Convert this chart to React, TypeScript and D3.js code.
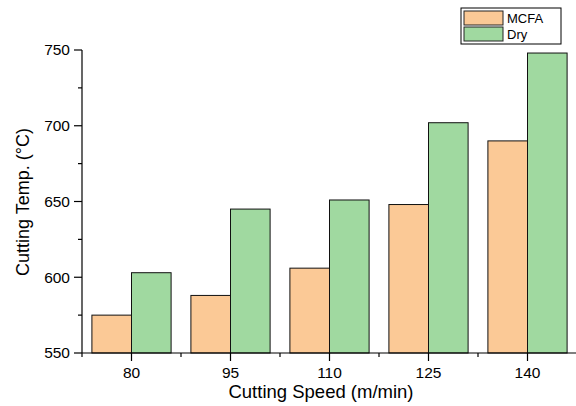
import React, { useEffect, useRef } from 'react';
import * as d3 from 'd3';

const speeds = [80, 95, 110, 125, 140];
const mcfa = [575, 588, 606, 648, 690];
const dry = [603, 645, 651, 702, 748];
const yTicks = [550, 600, 650, 700, 750];

const WIDTH = 576;
const HEIGHT = 406;

const App: React.FC = () => {
  const svgRef = useRef<SVGSVGElement>(null);

  useEffect(() => {
    if (!svgRef.current) return;
    const svg = d3.select(svgRef.current);
    svg.selectAll('*').remove();

    const left = 82;
    const right = 577;
    const top = 50;
    const bottom = 353;
    const font = 'Liberation Sans, Arial, sans-serif';

    const x = d3.scaleLinear().domain([72.5, 147.5]).range([left, right]);
    const y = d3.scaleLinear().domain([550, 750]).range([bottom, top]);
    const half = 6; // bar width in speed units

    const series = [
      { name: 'MCFA', values: mcfa, color: '#fbc996', offset: -half },
      { name: 'Dry', values: dry, color: '#a0d9a0', offset: 0 },
    ];

    // bars
    series.forEach(s => {
      svg
        .append('g')
        .selectAll('rect')
        .data(speeds)
        .enter()
        .append('rect')
        .attr('x', d => x(d + s.offset))
        .attr('width', x(half) - x(0))
        .attr('y', (d, i) => y(s.values[i]))
        .attr('height', (d, i) => bottom - y(s.values[i]))
        .attr('fill', s.color)
        .attr('stroke', '#111')
        .attr('stroke-width', 1);
    });

    // y axis
    const yAxis = svg.append('g').attr('transform', `translate(${left},0)`);
    yAxis
      .append('line')
      .attr('x1', 0)
      .attr('x2', 0)
      .attr('y1', top)
      .attr('y2', bottom)
      .attr('stroke', '#000')
      .attr('stroke-width', 1.2);
    d3.range(550, 751, 25).forEach(v => {
      const major = v % 50 === 0;
      yAxis
        .append('line')
        .attr('x1', major ? -8 : -4)
        .attr('x2', 0)
        .attr('y1', y(v))
        .attr('y2', y(v))
        .attr('stroke', '#000')
        .attr('stroke-width', 1.2);
    });
    yAxis
      .selectAll('text')
      .data(yTicks)
      .enter()
      .append('text')
      .attr('x', -12)
      .attr('y', d => y(d))
      .attr('dy', '0.35em')
      .attr('text-anchor', 'end')
      .style('font-family', font)
      .style('font-size', '15.5px')
      .text(d => d);

    // x axis
    const xAxis = svg.append('g').attr('transform', `translate(0,${bottom})`);
    xAxis
      .append('line')
      .attr('x1', left)
      .attr('x2', right)
      .attr('stroke', '#000')
      .attr('stroke-width', 1.2);
    d3.range(72.5, 147.6, 7.5).forEach(v => {
      const major = speeds.includes(v);
      xAxis
        .append('line')
        .attr('x1', x(v))
        .attr('x2', x(v))
        .attr('y1', 0)
        .attr('y2', major ? 8 : 4)
        .attr('stroke', '#000')
        .attr('stroke-width', 1.2);
    });
    xAxis
      .selectAll('text')
      .data(speeds)
      .enter()
      .append('text')
      .attr('x', d => x(d))
      .attr('y', 25)
      .attr('text-anchor', 'middle')
      .style('font-family', font)
      .style('font-size', '15.5px')
      .text(d => d);

    // axis titles
    svg
      .append('text')
      .attr('x', 321)
      .attr('y', 398)
      .attr('text-anchor', 'middle')
      .style('font-family', font)
      .style('font-size', '18.5px')
      .text('Cutting Speed (m/min)');
    svg
      .append('text')
      .attr('transform', 'translate(29,202) rotate(-90)')
      .attr('text-anchor', 'middle')
      .style('font-family', font)
      .style('font-size', '18px')
      .text('Cutting Temp. (°C)');

    // legend
    const lg = svg.append('g').attr('transform', 'translate(461,8)');
    lg.append('rect')
      .attr('width', 100)
      .attr('height', 36)
      .attr('fill', '#fff')
      .attr('stroke', '#000')
      .attr('stroke-width', 1);
    series.forEach((s, i) => {
      lg.append('rect')
        .attr('x', 3)
        .attr('y', 3 + i * 16)
        .attr('width', 39)
        .attr('height', 14)
        .attr('fill', s.color)
        .attr('stroke', '#222')
        .attr('stroke-width', 1);
      lg.append('text')
        .attr('x', 46)
        .attr('y', 10 + i * 16)
        .attr('dy', '0.35em')
        .style('font-family', font)
        .style('font-size', '13px')
        .text(s.name);
    });
  }, []);

  return (
    <svg
      ref={svgRef}
      width={WIDTH}
      height={HEIGHT}
      style={{ position: 'absolute', left: 0, top: 0, background: '#fff' }}
    ></svg>
  );
};

export default App;
